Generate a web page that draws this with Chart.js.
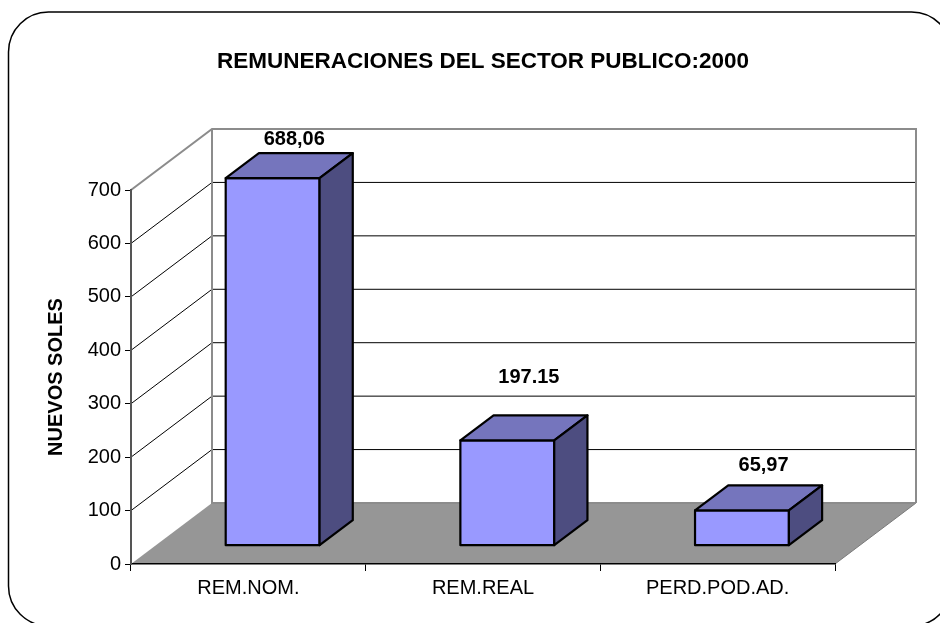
<!DOCTYPE html>
<html>
<head>
<meta charset="utf-8">
<script src="https://cdn.jsdelivr.net/npm/chart.js@4/dist/chart.umd.min.js"></script>
<style>
  body { margin: 0; background: #fff; }
  canvas { display: block; }
</style>
</head>
<body>
<canvas id="remChart" width="940" height="623"></canvas>
<script>
// data
const categories = ['REM.NOM.', 'REM.REAL', 'PERD.POD.AD.'];
const values = [688.06, 197.15, 65.97];
const valueLabels = ['688,06', '197.15', '65,97'];
const yTicks = [0, 100, 200, 300, 400, 500, 600, 700];

// 3d look (excel style)
const depth = { dx: 81, dy: -61, near: 0.3, far: 0.71 };
const labelShift = [-26, -50, -32];
const fontFamily = '"Liberation Sans", Arial, sans-serif';

Chart.defaults.font.family = fontFamily;
Chart.defaults.color = '#000';

function poly(ctx, pts, fill, stroke, width) {
    ctx.beginPath();
    ctx.moveTo(pts[0][0], pts[0][1]);
    for (let i = 1; i < pts.length; i++) ctx.lineTo(pts[i][0], pts[i][1]);
    ctx.closePath();
    if (fill) { ctx.fillStyle = fill; ctx.fill(); }
    if (stroke) { ctx.strokeStyle = stroke; ctx.lineWidth = width; ctx.stroke(); }
}

function line(ctx, x0, y0, x1, y1, color, width) {
    ctx.beginPath();
    ctx.moveTo(x0, y0);
    ctx.lineTo(x1, y1);
    ctx.strokeStyle = color;
    ctx.lineWidth = width;
    ctx.stroke();
}

const box3d = {
    id: 'box3d',
    beforeDraw(chart) {
        const { ctx, chartArea: area, scales: { y } } = chart;
        const { dx, dy } = depth;
        ctx.save();
        ctx.fillStyle = '#fff';
        ctx.fillRect(0, 0, chart.width, chart.height);

        // frame round the whole chart
        ctx.beginPath();
        ctx.roundRect(8.5, 12, 943, 614, 40);
        ctx.strokeStyle = '#000';
        ctx.lineWidth = 1.5;
        ctx.stroke();

        const left = area.left, right = area.right;
        const top = y.getPixelForValue(yTicks[yTicks.length - 1]);
        const bottom = y.getPixelForValue(yTicks[0]);

        // floor
        poly(ctx, [[left, bottom], [right, bottom], [right + dx, bottom + dy], [left + dx, bottom + dy]], '#969696');
        line(ctx, right, bottom, right + dx, bottom + dy, '#7a7a7a', 1);

        // grid on side + back wall
        yTicks.slice(1, -1).forEach(v => {
            const py = y.getPixelForValue(v);
            line(ctx, left, py, left + dx, py + dy, '#000', 1);
            line(ctx, left + dx, py + dy, right + dx, py + dy, '#000', 1);
        });

        // wall edges
        ctx.beginPath();
        ctx.moveTo(left, top);
        ctx.lineTo(left + dx, top + dy);
        ctx.lineTo(right + dx, top + dy);
        ctx.lineTo(right + dx, bottom + dy);
        ctx.moveTo(left + dx, top + dy);
        ctx.lineTo(left + dx, bottom + dy);
        ctx.lineTo(right + dx, bottom + dy);
        ctx.strokeStyle = '#8c8c8c';
        ctx.lineWidth = 2;
        ctx.stroke();
        ctx.restore();
    },
    afterDatasetsDraw(chart) {
        const { ctx } = chart;
        const meta = chart.getDatasetMeta(0);
        const ox = depth.dx * (depth.far - depth.near);
        const oy = depth.dy * (depth.far - depth.near);
        ctx.save();
        ctx.lineJoin = 'round';
        meta.data.forEach((bar, i) => {
            const p = bar.getProps(['x', 'y', 'base', 'width'], true);
            const sx = depth.dx * depth.near, sy = depth.dy * depth.near;
            const x0 = p.x - p.width / 2 + sx, x1 = p.x + p.width / 2 + sx;
            const yt = p.y + sy, yb = p.base + sy;

            poly(ctx, [[x0, yt], [x1, yt], [x1, yb], [x0, yb]], '#9999ff', '#000', 2.2);
            poly(ctx, [[x0, yt], [x0 + ox, yt + oy], [x1 + ox, yt + oy], [x1, yt]], '#7575bd', '#000', 2.2);
            poly(ctx, [[x1, yt], [x1 + ox, yt + oy], [x1 + ox, yb + oy], [x1, yb]], '#4d4d80', '#000', 2.2);

            ctx.fillStyle = '#000';
            ctx.font = 'bold 20px ' + fontFamily;
            ctx.textAlign = 'center';
            ctx.textBaseline = 'middle';
            const cx = (x0 + x1 + ox) / 2;
            const cy = yt + oy / 2;
            ctx.fillText(valueLabels[i], cx + 5, cy + labelShift[i]);
        });
        ctx.restore();
    }
};

const config = {
    type: 'bar',
    data: {
        labels: categories,
        datasets: [{
            label: 'Remuneraciones',
            data: values,
            backgroundColor: 'rgba(0,0,0,0)',
            borderWidth: 0,
            barPercentage: 0.4,
            categoryPercentage: 1
        }]
    },
    options: {
        responsive: false,
        animation: false,
        layout: {
            padding: { left: 40, right: 105, top: 0, bottom: 0 }
        },
        plugins: {
            legend: { display: false },
            tooltip: { enabled: false },
            title: {
                display: true,
                text: 'REMUNERACIONES DEL SECTOR PUBLICO:2000',
                fullSize: false,
                color: '#000',
                font: { size: 22.5, weight: 'bold' },
                padding: { top: 48, bottom: 115 }
            }
        },
        scales: {
            x: {
                grid: {
                    offset: true,
                    drawOnChartArea: false,
                    tickLength: 7,
                    color: '#000'
                },
                border: { color: '#000', width: 1.5 },
                ticks: { font: { size: 20 }, padding: 5, color: '#000' },
                afterFit(scale) { scale.height = 59; }
            },
            y: {
                min: 0,
                max: 700,
                grid: {
                    drawOnChartArea: false,
                    tickLength: 6,
                    color: '#000'
                },
                border: { color: '#555', width: 2 },
                ticks: { stepSize: 100, font: { size: 20 }, padding: 4, color: '#000' },
                title: {
                    display: true,
                    text: 'NUEVOS SOLES',
                    color: '#000',
                    font: { size: 20, weight: 'bold' }
                },
                afterFit(scale) { scale.width = 91; }
            }
        }
    },
    plugins: [box3d]
};

let remChart = new Chart(document.getElementById('remChart'), config);
</script>
</body>
</html>
